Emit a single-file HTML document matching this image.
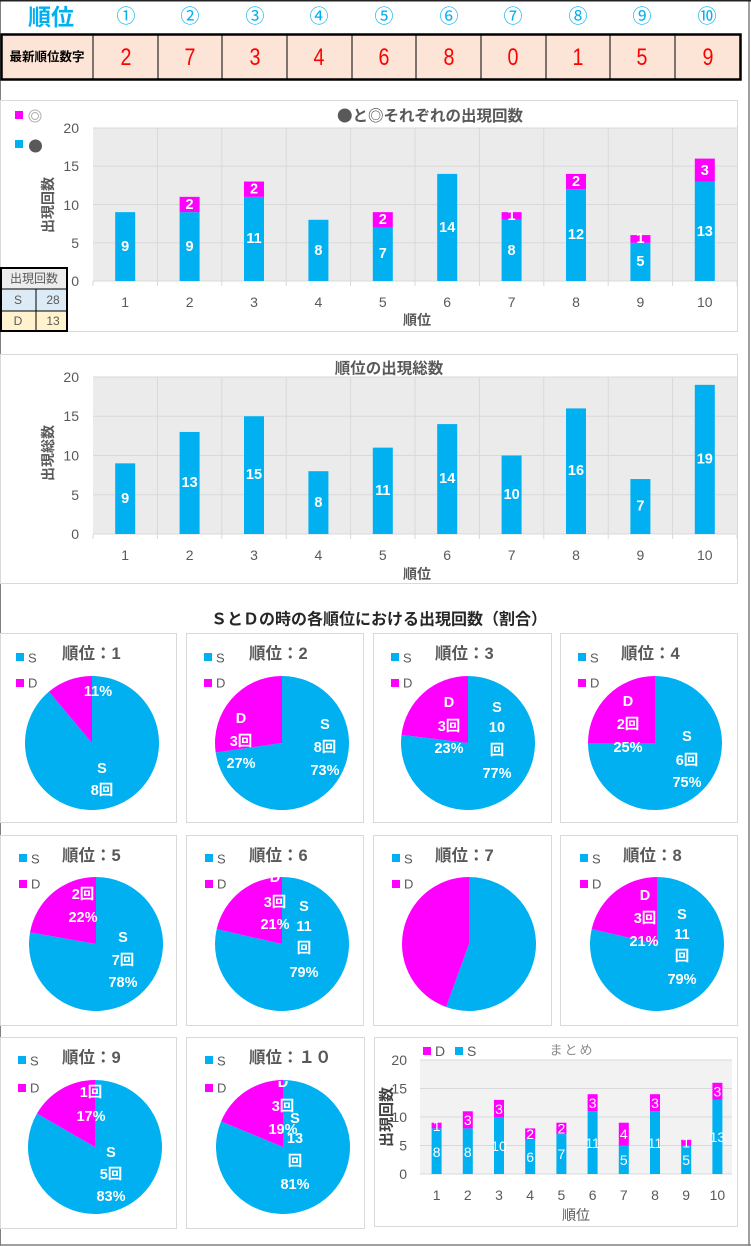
<!DOCTYPE html>
<html><head><meta charset="utf-8">
<style>
html,body{margin:0;padding:0;background:#fff;}
svg{display:block;}
text{font-family:"Liberation Sans","Noto Sans CJK JP",sans-serif;}
.t{fill:#595959;font-size:14px;}
.wl{fill:#fff;font-size:14.5px;font-weight:bold;text-anchor:middle;dominant-baseline:central;}
.ws{fill:#fff;font-size:14px;text-anchor:middle;dominant-baseline:central;}
.yt{fill:#595959;font-size:14px;text-anchor:end;dominant-baseline:central;}
.xt{fill:#595959;font-size:14px;text-anchor:middle;dominant-baseline:central;}
.pt{fill:#595959;font-size:16.5px;font-weight:bold;dominant-baseline:central;}
.lg{fill:#595959;font-size:13px;dominant-baseline:central;}
</style></head>
<body>
<svg width="751" height="1246" viewBox="0 0 751 1246" xmlns="http://www.w3.org/2000/svg">
<rect x="0" y="0" width="751" height="1246" fill="#fff"/>
<!-- page frame -->
<line x1="0.5" y1="0" x2="0.5" y2="1246" stroke="#808080" stroke-width="1"/>
<line x1="749" y1="0" x2="749" y2="1246" stroke="#808080" stroke-width="1.5"/>
<line x1="0" y1="1245" x2="751" y2="1245" stroke="#808080" stroke-width="1.5"/>
<line x1="0" y1="0.5" x2="751" y2="0.5" stroke="#222" stroke-width="2"/>

<!-- top table -->
<text x="51" y="17" fill="#00b0f0" font-size="23" font-weight="bold" text-anchor="middle" dominant-baseline="central">順位</text>
<g fill="#00b0f0" font-size="19" text-anchor="middle" dominant-baseline="central" style="font-family:'Noto Sans CJK JP',sans-serif">
<text x="126" y="17">①</text><text x="190" y="17">②</text><text x="255" y="17">③</text><text x="319" y="17">④</text><text x="384" y="17">⑤</text><text x="449" y="17">⑥</text><text x="513" y="17">⑦</text><text x="578" y="17">⑧</text><text x="642" y="17">⑨</text><text x="707" y="17">⑩</text>
</g>
<rect x="1.5" y="34.5" width="739" height="45" fill="#fce4d6" stroke="#000" stroke-width="2.5"/>
<g stroke="#000" stroke-width="1">
<line x1="93" y1="34" x2="93" y2="80"/><line x1="158" y1="34" x2="158" y2="80"/><line x1="222" y1="34" x2="222" y2="80"/><line x1="287" y1="34" x2="287" y2="80"/><line x1="352" y1="34" x2="352" y2="80"/><line x1="416" y1="34" x2="416" y2="80"/><line x1="481" y1="34" x2="481" y2="80"/><line x1="546" y1="34" x2="546" y2="80"/><line x1="610" y1="34" x2="610" y2="80"/><line x1="675" y1="34" x2="675" y2="80"/>
</g>
<text x="47" y="57" fill="#000" font-size="12.5" font-weight="bold" text-anchor="middle" dominant-baseline="central">最新順位数字</text>
<g fill="#ff0000" font-size="24" text-anchor="middle" dominant-baseline="central">
<text transform="translate(126,57) scale(0.82,1)">2</text><text transform="translate(190,57) scale(0.82,1)">7</text><text transform="translate(255,57) scale(0.82,1)">3</text><text transform="translate(319,57) scale(0.82,1)">4</text><text transform="translate(384,57) scale(0.82,1)">6</text><text transform="translate(449,57) scale(0.82,1)">8</text><text transform="translate(513,57) scale(0.82,1)">0</text><text transform="translate(578,57) scale(0.82,1)">1</text><text transform="translate(642,57) scale(0.82,1)">5</text><text transform="translate(708,57) scale(0.82,1)">9</text>
</g>

<!-- Chart 1 -->
<rect x="0.5" y="100.5" width="737" height="231" fill="#fff" stroke="#d9d9d9"/>
<rect x="93" y="128" width="644" height="153" fill="#ebebeb"/>
<g stroke="#d9d9d9" stroke-width="1">
<line x1="93" y1="128" x2="737" y2="128"/><line x1="93" y1="166.25" x2="737" y2="166.25"/><line x1="93" y1="204.5" x2="737" y2="204.5"/><line x1="93" y1="242.75" x2="737" y2="242.75"/><line x1="93" y1="281" x2="737" y2="281"/>
<line x1="157.4" y1="128" x2="157.4" y2="286"/><line x1="221.8" y1="128" x2="221.8" y2="286"/><line x1="286.2" y1="128" x2="286.2" y2="286"/><line x1="350.6" y1="128" x2="350.6" y2="286"/><line x1="415" y1="128" x2="415" y2="286"/><line x1="479.4" y1="128" x2="479.4" y2="286"/><line x1="543.8" y1="128" x2="543.8" y2="286"/><line x1="608.2" y1="128" x2="608.2" y2="286"/><line x1="672.6" y1="128" x2="672.6" y2="286"/>
<line x1="93" y1="281" x2="93" y2="286"/><line x1="737" y1="281" x2="737" y2="286"/>
</g>
<g fill="#00b0f0">
<rect x="115.2" y="212.15" width="20" height="68.85"/><rect x="179.6" y="212.15" width="20" height="68.85"/><rect x="244" y="196.85" width="20" height="84.15"/><rect x="308.4" y="219.8" width="20" height="61.2"/><rect x="372.8" y="227.45" width="20" height="53.55"/><rect x="437.2" y="173.9" width="20" height="107.1"/><rect x="501.6" y="219.8" width="20" height="61.2"/><rect x="566" y="189.2" width="20" height="91.8"/><rect x="630.4" y="242.75" width="20" height="38.25"/><rect x="694.8" y="181.55" width="20" height="99.45"/>
</g>
<g fill="#ff00ff">
<rect x="179.6" y="196.85" width="20" height="15.3"/><rect x="244" y="181.55" width="20" height="15.3"/><rect x="372.8" y="212.15" width="20" height="15.3"/><rect x="501.6" y="212.15" width="20" height="7.65"/><rect x="566" y="173.9" width="20" height="15.3"/><rect x="630.4" y="235.1" width="20" height="7.65"/><rect x="694.8" y="158.6" width="20" height="22.95"/>
</g>
<g class="wl">
<text x="125.2" y="247">9</text><text x="189.6" y="247">9</text><text x="254" y="239">11</text><text x="318.4" y="251">8</text><text x="382.8" y="254">7</text><text x="447.2" y="228">14</text><text x="511.6" y="251">8</text><text x="576" y="235">12</text><text x="640.4" y="262">5</text><text x="704.8" y="232">13</text>
<text x="189.6" y="205">2</text><text x="254" y="189.5">2</text><text x="382.8" y="220">2</text><text x="511.6" y="216">1</text><text x="576" y="182">2</text><text x="640.4" y="239">1</text><text x="704.8" y="171">3</text>
</g>
<g class="yt"><text x="79" y="128">20</text><text x="79" y="166">15</text><text x="79" y="205">10</text><text x="79" y="243">5</text><text x="79" y="281">0</text></g>
<g class="xt"><text x="125.2" y="302">1</text><text x="189.6" y="302">2</text><text x="254" y="302">3</text><text x="318.4" y="302">4</text><text x="382.8" y="302">5</text><text x="447.2" y="302">6</text><text x="511.6" y="302">7</text><text x="576" y="302">8</text><text x="640.4" y="302">9</text><text x="704.8" y="302">10</text></g>
<text x="417" y="320" fill="#595959" font-size="14" font-weight="bold" text-anchor="middle" dominant-baseline="central">順位</text>
<text transform="translate(48,205) rotate(-90)" fill="#595959" font-size="14" font-weight="bold" text-anchor="middle" dominant-baseline="central">出現回数</text>
<text x="430" y="115" fill="#595959" font-size="15.5" font-weight="bold" text-anchor="middle" dominant-baseline="central" style="font-family:'Noto Sans CJK JP',sans-serif">●と◎それぞれの出現回数</text>
<rect x="15" y="111" width="8" height="8" fill="#ff00ff"/>
<circle cx="35" cy="116" r="6" fill="none" stroke="#b0b0b0" stroke-width="1"/>
<circle cx="35" cy="116" r="3.5" fill="none" stroke="#b0b0b0" stroke-width="1"/>
<rect x="15" y="140" width="8" height="8" fill="#00b0f0"/>
<circle cx="35.5" cy="146" r="6.5" fill="#595959"/>
<!-- small table -->
<rect x="1" y="268" width="66" height="21" fill="#ededed"/>
<rect x="1" y="289" width="66" height="22" fill="#ddebf7"/>
<rect x="1" y="311" width="66" height="20" fill="#fff2cc"/>
<rect x="1" y="268" width="66" height="63" fill="none" stroke="#000" stroke-width="2"/>
<line x1="1" y1="289" x2="67" y2="289" stroke="#000" stroke-width="1"/>
<line x1="1" y1="311" x2="67" y2="311" stroke="#000" stroke-width="1"/>
<line x1="36" y1="289" x2="36" y2="331" stroke="#000" stroke-width="1"/>
<g fill="#595959" font-size="12" dominant-baseline="central">
<text x="34" y="278.5" text-anchor="middle">出現回数</text>
<text x="18" y="300" text-anchor="middle">S</text><text x="53" y="300" text-anchor="middle">28</text>
<text x="18" y="321" text-anchor="middle">D</text><text x="53" y="321" text-anchor="middle">13</text>
</g>

<!-- Chart 2 -->
<rect x="0.5" y="354.5" width="737" height="229" fill="#fff" stroke="#d9d9d9"/>
<rect x="93" y="377" width="644" height="157" fill="#ebebeb"/>
<g stroke="#d9d9d9" stroke-width="1">
<line x1="93" y1="377" x2="737" y2="377"/><line x1="93" y1="416.25" x2="737" y2="416.25"/><line x1="93" y1="455.5" x2="737" y2="455.5"/><line x1="93" y1="494.75" x2="737" y2="494.75"/><line x1="93" y1="534" x2="737" y2="534"/>
<line x1="157.4" y1="377" x2="157.4" y2="539"/><line x1="221.8" y1="377" x2="221.8" y2="539"/><line x1="286.2" y1="377" x2="286.2" y2="539"/><line x1="350.6" y1="377" x2="350.6" y2="539"/><line x1="415" y1="377" x2="415" y2="539"/><line x1="479.4" y1="377" x2="479.4" y2="539"/><line x1="543.8" y1="377" x2="543.8" y2="539"/><line x1="608.2" y1="377" x2="608.2" y2="539"/><line x1="672.6" y1="377" x2="672.6" y2="539"/>
<line x1="93" y1="534" x2="93" y2="539"/><line x1="737" y1="534" x2="737" y2="539"/>
</g>
<g fill="#00b0f0">
<rect x="115.2" y="463.35" width="20" height="70.65"/><rect x="179.6" y="431.95" width="20" height="102.05"/><rect x="244" y="416.25" width="20" height="117.75"/><rect x="308.4" y="471.2" width="20" height="62.8"/><rect x="372.8" y="447.65" width="20" height="86.35"/><rect x="437.2" y="424.1" width="20" height="109.9"/><rect x="501.6" y="455.5" width="20" height="78.5"/><rect x="566" y="408.4" width="20" height="125.6"/><rect x="630.4" y="479.05" width="20" height="54.95"/><rect x="694.8" y="384.85" width="20" height="149.15"/>
</g>
<g class="wl">
<text x="125.2" y="499">9</text><text x="189.6" y="483">13</text><text x="254" y="475">15</text><text x="318.4" y="503">8</text><text x="382.8" y="491">11</text><text x="447.2" y="479">14</text><text x="511.6" y="495">10</text><text x="576" y="471">16</text><text x="640.4" y="506.5">7</text><text x="704.8" y="459.5">19</text>
</g>
<g class="yt"><text x="79" y="377">20</text><text x="79" y="416">15</text><text x="79" y="455.5">10</text><text x="79" y="495">5</text><text x="79" y="534">0</text></g>
<g class="xt"><text x="125.2" y="555">1</text><text x="189.6" y="555">2</text><text x="254" y="555">3</text><text x="318.4" y="555">4</text><text x="382.8" y="555">5</text><text x="447.2" y="555">6</text><text x="511.6" y="555">7</text><text x="576" y="555">8</text><text x="640.4" y="555">9</text><text x="704.8" y="555">10</text></g>
<text x="417" y="574" fill="#595959" font-size="14" font-weight="bold" text-anchor="middle" dominant-baseline="central">順位</text>
<text transform="translate(48,453) rotate(-90)" fill="#595959" font-size="14" font-weight="bold" text-anchor="middle" dominant-baseline="central">出現総数</text>
<text x="389" y="369" fill="#595959" font-size="15.5" font-weight="bold" text-anchor="middle" dominant-baseline="central">順位の出現総数</text>

<!-- Pie section title -->
<text x="379" y="620" fill="#262626" font-size="16" font-weight="bold" text-anchor="middle" dominant-baseline="central">ＳとＤの時の各順位における出現回数（割合）</text>

<!-- Pie boxes -->
<g fill="#fff" stroke="#d9d9d9" stroke-width="1">
<rect x="0.5" y="633.5" width="176" height="189"/><rect x="186.5" y="633.5" width="177" height="189"/><rect x="373.5" y="633.5" width="178" height="189"/><rect x="560.5" y="633.5" width="177" height="189"/>
<rect x="0.5" y="835.5" width="176" height="190"/><rect x="186.5" y="835.5" width="177" height="190"/><rect x="373.5" y="835.5" width="178" height="190"/><rect x="560.5" y="835.5" width="177" height="190"/>
<rect x="0.5" y="1037.5" width="176" height="191"/><rect x="186.5" y="1037.5" width="178" height="191"/><rect x="374.5" y="1037.5" width="363" height="189"/>
</g>

<!-- pie titles & legends -->
<g class="pt">
<text x="62" y="654">順位：1</text><text x="249" y="654">順位：2</text><text x="435" y="654">順位：3</text><text x="621" y="654">順位：4</text>
<text x="62" y="856">順位：5</text><text x="249" y="856">順位：6</text><text x="435" y="856">順位：7</text><text x="623" y="856">順位：8</text>
<text x="62" y="1058">順位：9</text><text x="249" y="1058">順位：１０</text>
</g>
<g>
<rect x="16" y="653" width="8" height="8" fill="#00b0f0"/><rect x="16" y="679" width="8" height="8" fill="#ff00ff"/>
<rect x="204" y="653" width="8" height="8" fill="#00b0f0"/><rect x="204" y="679" width="8" height="8" fill="#ff00ff"/>
<rect x="391" y="653" width="8" height="8" fill="#00b0f0"/><rect x="391" y="679" width="8" height="8" fill="#ff00ff"/>
<rect x="578" y="653" width="8" height="8" fill="#00b0f0"/><rect x="578" y="679" width="8" height="8" fill="#ff00ff"/>
<rect x="19" y="854" width="8" height="8" fill="#00b0f0"/><rect x="19" y="880" width="8" height="8" fill="#ff00ff"/>
<rect x="205" y="854" width="8" height="8" fill="#00b0f0"/><rect x="205" y="880" width="8" height="8" fill="#ff00ff"/>
<rect x="392" y="854" width="8" height="8" fill="#00b0f0"/><rect x="392" y="880" width="8" height="8" fill="#ff00ff"/>
<rect x="580" y="854" width="8" height="8" fill="#00b0f0"/><rect x="580" y="880" width="8" height="8" fill="#ff00ff"/>
<rect x="18" y="1056" width="8" height="8" fill="#00b0f0"/><rect x="18" y="1084" width="8" height="8" fill="#ff00ff"/>
<rect x="205" y="1056" width="8" height="8" fill="#00b0f0"/><rect x="205" y="1084" width="8" height="8" fill="#ff00ff"/>
</g>
<g class="lg">
<text x="28" y="658">S</text><text x="28" y="683">D</text>
<text x="216" y="658">S</text><text x="216" y="683">D</text>
<text x="403" y="658">S</text><text x="403" y="683">D</text>
<text x="590" y="658">S</text><text x="590" y="683">D</text>
<text x="31" y="859">S</text><text x="31" y="884">D</text>
<text x="217" y="859">S</text><text x="217" y="884">D</text>
<text x="404" y="859">S</text><text x="404" y="884">D</text>
<text x="592" y="859">S</text><text x="592" y="884">D</text>
<text x="30" y="1061">S</text><text x="30" y="1088">D</text>
<text x="217" y="1061">S</text><text x="217" y="1088">D</text>
</g>

<!-- Pies -->
<path d="M92,743 L92,676 A67,67 0 1 1 48.93,691.68 Z" fill="#00b0f0"/>
<path d="M92,743 L48.93,691.68 A67,67 0 0 1 92,676 Z" fill="#ff00ff"/>
<path d="M282,743 L282,676 A67,67 0 1 1 215.68,752.53 Z" fill="#00b0f0"/>
<path d="M282,743 L215.68,752.53 A67,67 0 0 1 282,676 Z" fill="#ff00ff"/>
<path d="M468,743 L468,676 A67,67 0 1 1 401.49,734.92 Z" fill="#00b0f0"/>
<path d="M468,743 L401.49,734.92 A67,67 0 0 1 468,676 Z" fill="#ff00ff"/>
<path d="M655,743 L655,676 A67,67 0 1 1 588,743 Z" fill="#00b0f0"/>
<path d="M655,743 L588,743 A67,67 0 0 1 655,676 Z" fill="#ff00ff"/>
<path d="M96,944 L96,877 A67,67 0 1 1 30.02,932.37 Z" fill="#00b0f0"/>
<path d="M96,944 L30.02,932.37 A67,67 0 0 1 96,877 Z" fill="#ff00ff"/>
<path d="M282,944 L282,877 A67,67 0 1 1 216.68,929.09 Z" fill="#00b0f0"/>
<path d="M282,944 L216.68,929.09 A67,67 0 0 1 282,877 Z" fill="#ff00ff"/>
<path d="M469,944 L469,877 A67,67 0 1 1 446.08,1006.96 Z" fill="#00b0f0"/>
<path d="M469,944 L446.08,1006.96 A67,67 0 0 1 469,877 Z" fill="#ff00ff"/>
<path d="M657,944 L657,877 A67,67 0 1 1 591.68,929.09 Z" fill="#00b0f0"/>
<path d="M657,944 L591.68,929.09 A67,67 0 0 1 657,877 Z" fill="#ff00ff"/>
<path d="M95,1147 L95,1080 A67,67 0 1 1 36.98,1113.5 Z" fill="#00b0f0"/>
<path d="M95,1147 L36.98,1113.5 A67,67 0 0 1 95,1080 Z" fill="#ff00ff"/>
<path d="M283,1147 L283,1080 A67,67 0 1 1 221.1,1121.36 Z" fill="#00b0f0"/>
<path d="M283,1147 L221.1,1121.36 A67,67 0 0 1 283,1080 Z" fill="#ff00ff"/>

<defs>
<clipPath id="c6"><rect x="187" y="877" width="177" height="150"/></clipPath>
<clipPath id="c10"><rect x="187" y="1081" width="177" height="150"/></clipPath>
</defs>
<g class="wl">
<text x="98" y="692">11%</text><text x="102" y="769">S</text><text x="102" y="791">8回</text>
<text x="241" y="719">D</text><text x="241" y="742">3回</text><text x="241" y="764">27%</text>
<text x="325" y="725">S</text><text x="325" y="748">8回</text><text x="325" y="771">73%</text>
<text x="449" y="703">D</text><text x="449" y="727">3回</text><text x="449" y="749">23%</text>
<text x="497" y="708">S</text><text x="497" y="728">10</text><text x="497" y="751">回</text><text x="497" y="774">77%</text>
<text x="628" y="702">D</text><text x="628" y="725">2回</text><text x="628" y="748">25%</text>
<text x="687" y="737">S</text><text x="687" y="761">6回</text><text x="687" y="783">75%</text>
<text x="83" y="895">2回</text><text x="83" y="918">22%</text>
<text x="123" y="938">S</text><text x="123" y="961">7回</text><text x="123" y="983">78%</text>
<text x="275" y="878" clip-path="url(#c6)">D</text><text x="275" y="903">3回</text><text x="275" y="925">21%</text>
<text x="304" y="907">S</text><text x="304" y="927">11</text><text x="304" y="949">回</text><text x="304" y="973">79%</text>
<text x="645" y="896">D</text><text x="645" y="919">3回</text><text x="644" y="942">21%</text>
<text x="682" y="915">S</text><text x="682" y="935">11</text><text x="682" y="957">回</text><text x="682" y="980">79%</text>
<text x="91" y="1093">1回</text><text x="91" y="1117">17%</text>
<text x="111" y="1153">S</text><text x="111" y="1175">5回</text><text x="111" y="1197">83%</text>
<text x="283" y="1083" clip-path="url(#c10)">D</text><text x="283" y="1107">3回</text><text x="283" y="1130">19%</text>
<text x="295" y="1119">S</text><text x="295" y="1139">13</text><text x="295" y="1162">回</text><text x="295" y="1185">81%</text>
</g>

<!-- Summary chart -->
<rect x="420" y="1060" width="312" height="114" fill="#f2f2f2"/>
<g stroke="#d9d9d9" stroke-width="1">
<line x1="420" y1="1060" x2="732" y2="1060"/><line x1="420" y1="1088.5" x2="732" y2="1088.5"/><line x1="420" y1="1117" x2="732" y2="1117"/><line x1="420" y1="1145.5" x2="732" y2="1145.5"/><line x1="420" y1="1174" x2="732" y2="1174"/>
</g>
<g fill="#00b0f0">
<rect x="431.6" y="1128.4" width="10" height="45.6"/><rect x="462.8" y="1128.4" width="10" height="45.6"/><rect x="494" y="1117" width="10" height="57"/><rect x="525.2" y="1139.8" width="10" height="34.2"/><rect x="556.4" y="1134.1" width="10" height="39.9"/><rect x="587.6" y="1111.3" width="10" height="62.7"/><rect x="618.8" y="1145.5" width="10" height="28.5"/><rect x="650" y="1111.3" width="10" height="62.7"/><rect x="681.2" y="1145.5" width="10" height="28.5"/><rect x="712.4" y="1099.9" width="10" height="74.1"/>
</g>
<g fill="#ff00ff">
<rect x="431.6" y="1122.7" width="10" height="5.7"/><rect x="462.8" y="1111.3" width="10" height="17.1"/><rect x="494" y="1099.9" width="10" height="17.1"/><rect x="525.2" y="1128.4" width="10" height="11.4"/><rect x="556.4" y="1122.7" width="10" height="11.4"/><rect x="587.6" y="1094.2" width="10" height="17.1"/><rect x="618.8" y="1122.7" width="10" height="22.8"/><rect x="650" y="1094.2" width="10" height="17.1"/><rect x="681.2" y="1139.8" width="10" height="5.7"/><rect x="712.4" y="1082.8" width="10" height="17.1"/>
</g>
<g class="ws" font-size="14">
<text x="436.6" y="1152">8</text><text x="467.8" y="1152">8</text><text x="499" y="1146">10</text><text x="530.2" y="1157">6</text><text x="561.4" y="1154">7</text><text x="592.6" y="1143">11</text><text x="623.8" y="1160">5</text><text x="655" y="1143">11</text><text x="686.2" y="1160">5</text><text x="717.4" y="1137">13</text>
<text x="436.6" y="1126">1</text><text x="467.8" y="1120">3</text><text x="499" y="1109">3</text><text x="530.2" y="1134">2</text><text x="561.4" y="1128.5">2</text><text x="592.6" y="1103">3</text><text x="623.8" y="1134">4</text><text x="655" y="1103">3</text><text x="686.2" y="1142.5">1</text><text x="717.4" y="1091.5">3</text>
</g>
<g class="yt" font-size="15"><text x="407" y="1060">20</text><text x="407" y="1088.5">15</text><text x="407" y="1117">10</text><text x="407" y="1145.5">5</text><text x="407" y="1174">0</text></g>
<g class="xt" font-size="15"><text x="436.6" y="1195">1</text><text x="467.8" y="1195">2</text><text x="499" y="1195">3</text><text x="530.2" y="1195">4</text><text x="561.4" y="1195">5</text><text x="592.6" y="1195">6</text><text x="623.8" y="1195">7</text><text x="655" y="1195">8</text><text x="686.2" y="1195">9</text><text x="717.4" y="1195">10</text></g>
<text x="576" y="1215" fill="#595959" font-size="14" text-anchor="middle" dominant-baseline="central">順位</text>
<text transform="translate(387,1117) rotate(-90)" fill="#404040" font-size="15" font-weight="bold" text-anchor="middle" dominant-baseline="central">出現回数</text>
<rect x="423" y="1047" width="8" height="8" fill="#ff00ff"/>
<text x="435" y="1051" fill="#595959" font-size="14" dominant-baseline="central">D</text>
<rect x="455" y="1047" width="8" height="8" fill="#00b0f0"/>
<text x="467" y="1051" fill="#595959" font-size="14" dominant-baseline="central">S</text>
<text x="572" y="1050" fill="#8c8c8c" font-size="13" text-anchor="middle" dominant-baseline="central" letter-spacing="2">まとめ</text>
</svg>
</body></html>
